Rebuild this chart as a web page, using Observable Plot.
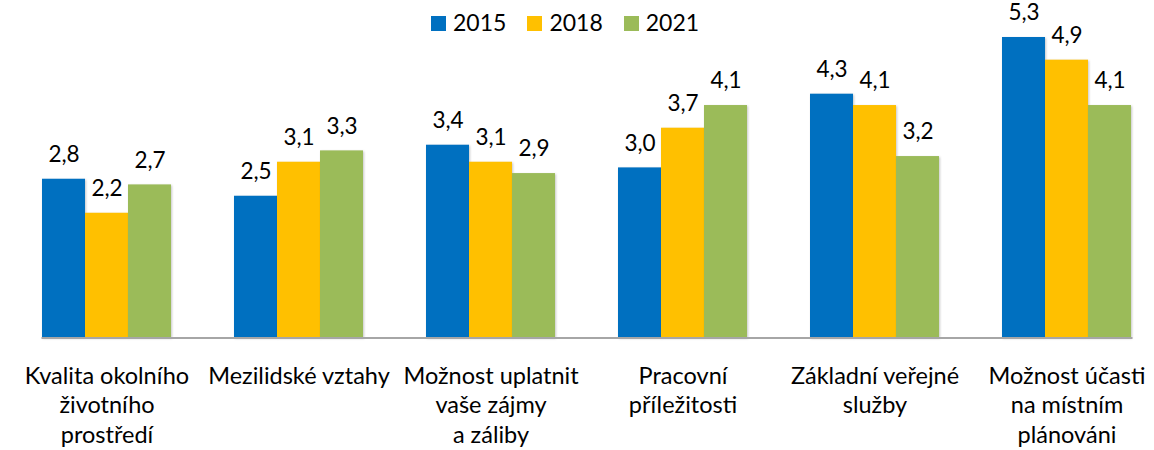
<!DOCTYPE html>
<html>
<head>
<meta charset="utf-8">
<script src="https://cdn.jsdelivr.net/npm/d3@7"></script>
<script src="https://cdn.jsdelivr.net/npm/@observablehq/plot@0.6"></script>
<style>
  html, body { margin: 0; padding: 0; background: #fff; overflow: hidden; }
  #wrap { position: relative; width: 1154px; height: 450px; }
  #legend { position: absolute; top: 8px; left: 431px; display: flex; align-items: baseline;
            font-family: Lato, sans-serif; font-size: 23px; color: #000; }
  #legend .item { display: flex; align-items: baseline; margin-right: 21px; }
  #legend .sw { display: inline-block; width: 15px; height: 15px; margin-right: 7px; }
  #chart svg g[aria-label="bar"] rect { filter: drop-shadow(1.5px 1px 1.2px rgba(0,0,0,0.22)); }
  #chart svg g[aria-label="frame"] { filter: drop-shadow(0px 1px 1px rgba(0,0,0,0.25)); }
</style>
</head>
<body>
<div id="wrap">
  <div id="chart"></div>
  <div id="legend"></div>
</div>
<script>
const categories = ["Kvalita", "Mezilidske", "Moznost uplatnit", "Pracovni", "Zakladni", "Moznost ucasti"];
const tickLabels = [
  "Kvalita okolního\nživotního\nprostředí",
  "Mezilidské vztahy",
  "Možnost uplatnit\nvaše zájmy\na záliby",
  "Pracovní\npříležitosti",
  "Základní veřejné\nslužby",
  "Možnost účasti\nna místním\nplánováni"
];
const years = ["2015", "2018", "2021"];
const v2015 = [2.8, 2.5, 3.4, 3.0, 4.3, 5.3];
const v2018 = [2.2, 3.1, 3.1, 3.7, 4.1, 4.9];
const v2021 = [2.7, 3.3, 2.9, 4.1, 3.2, 4.1];
const colors = ["#0070C0", "#FFC000", "#9BBB59"];

const series = [v2015, v2018, v2021];
const data = [];
categories.forEach((c, i) => {
  years.forEach((y, j) => data.push({cat: c, year: y, value: series[j][i]}));
});
const labelOf = new Map(categories.map((c, i) => [c, tickLabels[i]]));
const fmt = v => d3.format(".1f")(v).replace(".", ",");

const chart = Plot.plot({
  width: 1154,
  height: 450,
  marginLeft: 10,
  marginRight: -9,
  marginTop: 25.65,
  marginBottom: 112.5,
  style: {fontFamily: "Lato, sans-serif", fontSize: "24px", color: "#000", background: "#fff", overflow: "visible"},
  fx: {domain: categories, paddingInner: 0.329, paddingOuter: 0.1645, label: null},
  x: {domain: years, padding: 0, axis: null},
  y: {domain: [0, 5.5], axis: null},
  color: {domain: years, range: colors},
  marks: [
    Plot.barY(data, {fx: "cat", x: "year", y: "value", fill: "year"}),
    Plot.text(data, {fx: "cat", x: "year", y: "value", text: d => fmt(d.value), dy: -24.5, fontSize: 22.5, fill: "#000"}),
    Plot.frame({facet: "super", anchor: "bottom", stroke: "#a6a6a6", strokeWidth: 2}),
    Plot.axisFx({anchor: "bottom", tickSize: 0, tickPadding: 24.5, tickFormat: c => labelOf.get(c),
                 lineHeight: 1.26, fontSize: 23.5, fill: "#000", label: null})
  ]
});
document.getElementById("chart").appendChild(chart);

const legend = document.getElementById("legend");
years.forEach((y, j) => {
  const item = document.createElement("div");
  item.className = "item";
  const sw = document.createElement("span");
  sw.className = "sw";
  sw.style.background = colors[j];
  const t = document.createElement("span");
  t.textContent = y;
  item.appendChild(sw);
  item.appendChild(t);
  legend.appendChild(item);
});
</script>
</body>
</html>
